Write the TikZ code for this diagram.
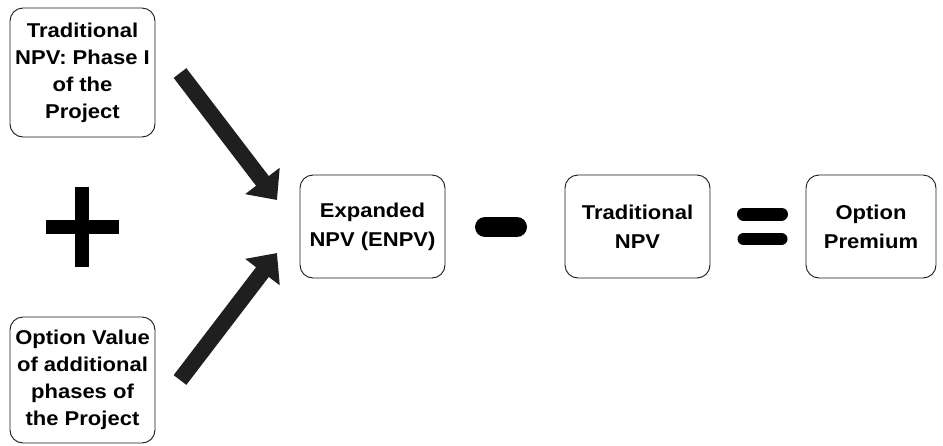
\documentclass[tikz,border=0pt]{standalone}
\usepackage{fontspec}
\setmainfont{Liberation Sans}[FakeStretch=1.1]
\usetikzlibrary{arrows.meta, positioning}
\tikzset{
  valbox/.style={
    rectangle, rounded corners=13pt, draw=black!90, line width=0.9pt,
    inner sep=0pt, align=center, font=\fontsize{20}{27}\selectfont\bfseries
  },
  bigarrow/.style={
    -{Triangle[width=42pt,length=24pt]}, line width=16pt, color=black!88
  },
  opsign/.style={
    line width=14pt, color=black
  }
}
\begin{document}
\begin{tikzpicture}[x=1pt, y=-1pt]
    \useasboundingbox (0,0) rectangle (943,445);
    % Input blocks
    \node[valbox, minimum width=145pt, minimum height=129pt] (phaseone) at (82.5,72.5)
      {Traditional\\NPV: Phase I\\of the\\Project};
    \node[valbox, minimum width=145pt, minimum height=126pt] (optval) at (82.5,380)
      {Option Value\\of additional\\phases of\\the Project};

    % Result blocks
    \node[valbox, minimum width=145pt, minimum height=103pt,
      font=\fontsize{20}{29}\selectfont\bfseries] (enpv) at (372.5,226.5)
      {Expanded\\NPV (ENPV)};
    \node[valbox, minimum width=145pt, minimum height=103pt,
      font=\fontsize{20}{29}\selectfont\bfseries] (tradnpv) at (637.5,226.5)
      {Traditional\\NPV};
    \node[valbox, minimum width=130pt, minimum height=103pt,
      font=\fontsize{20}{29}\selectfont\bfseries] (premium) at (871,226.5)
      {Option\\Premium};

    % Flow arrows
    \coordinate (topstart) at (180,73);
    \coordinate (topend) at (277,200);
    \coordinate (botstart) at (180,380);
    \coordinate (botend) at (277,253);
    \draw[bigarrow] (topstart) -- (topend);
    \draw[bigarrow] (botstart) -- (botend);

    % Plus sign
    \draw[opsign] (46,227) -- (119,227);
    \draw[opsign] (82,187) -- (82,267);

    % Minus sign
    \draw[opsign, line width=20pt, line cap=round] (485,227) -- (517,227);

    % Equals sign
    \draw[opsign, line width=13pt, line cap=round] (743.5,214) -- (781.5,214);
    \draw[opsign, line width=12pt, line cap=round] (743.5,239) -- (781.5,239);
\end{tikzpicture}
\end{document}
